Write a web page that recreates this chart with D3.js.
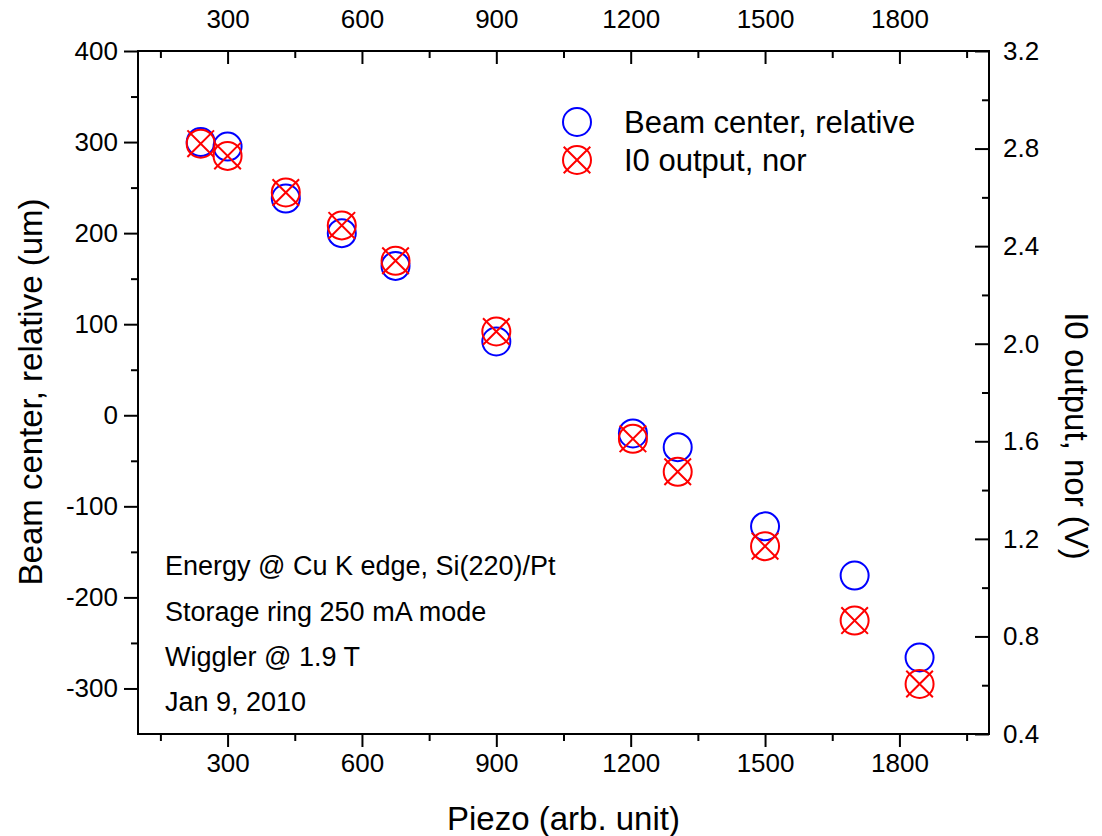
<!DOCTYPE html>
<html>
<head>
	<meta charset="utf-8">
	<script src="https://d3js.org/d3.v7.min.js"></script>
	<style>
		body { margin: 0; background: #fff; }
		text { font-family: "Liberation Sans", Arial, sans-serif; fill: #000; }
	</style>
</head>
<body>
	<div class="chart"></div>
	<script>
		// data
		var piezo = [240, 300, 430, 555, 675, 900, 1205, 1305, 1500, 1700, 1845];
		var beamCenter = [300, 295, 238, 200, 164, 81, -20, -35, -122, -176, -266];
		var i0Output = [2.82, 2.77, 2.62, 2.485, 2.34, 2.05, 1.61, 1.475, 1.17, 0.865, 0.605];
		var xTicks = [300, 600, 900, 1200, 1500, 1800];
		var yLeftTicks = [-300, -200, -100, 0, 100, 200, 300, 400];
		var yRightTicks = [0.4, 0.8, 1.2, 1.6, 2.0, 2.4, 2.8, 3.2];
		var notes = ["Energy @ Cu K edge, Si(220)/Pt", "Storage ring 250 mA mode", "Wiggler @ 1.9 T", "Jan 9, 2010"];
		var legendLabels = ["Beam center, relative", "I0 output, nor"];

		var w = 1102, h = 836;
		var pl = 138, pr = 989, pt = 51, pb = 734;
		var r = 14;
		var tickFont = 26;

		var svg = d3.select(".chart")
			.append("svg")
			.attr("width", w)
			.attr("height", h);

		var x = d3.scaleLinear().domain([100, 2000]).range([pl, pr]);
		var yL = d3.scaleLinear().domain([-350, 400]).range([pb, pt]);
		var yR = d3.scaleLinear().domain([0.4, 3.2]).range([pb, pt]);

		var xMinor = d3.range(150, 2000, 300);
		var yLMinor = d3.range(-250, 400, 100);
		var yRMinor = [0.6, 1.0, 1.4, 1.8, 2.2, 2.6, 3.0];

		function style(g) {
			g.select(".domain").remove();
			g.selectAll(".tick line").attr("stroke", "#000").attr("stroke-width", 2);
			g.selectAll(".tick text").style("font-size", tickFont + "px").style("font-family", null);
		}
		var plain = function(d) { return String(d); };

		// minor ticks first, then major with labels
		svg.append("g").attr("transform", "translate(0," + pb + ")")
			.call(d3.axisBottom(x).tickValues(xMinor).tickSize(7).tickFormat(""))
			.call(style);
		svg.append("g").attr("transform", "translate(0," + pb + ")")
			.call(d3.axisBottom(x).tickValues(xTicks).tickSize(13).tickPadding(7).tickFormat(plain))
			.call(style);

		svg.append("g").attr("transform", "translate(0," + pt + ")")
			.call(d3.axisBottom(x).tickValues(xMinor).tickSize(7).tickFormat(""))
			.call(style);
		var topAx = svg.append("g").attr("transform", "translate(0," + pt + ")")
			.call(d3.axisBottom(x).tickValues(xTicks).tickSize(13).tickFormat(plain))
			.call(style);
		topAx.selectAll(".tick text").attr("y", -41).attr("dy", "0.71em");

		svg.append("g").attr("transform", "translate(" + pl + ",0)")
			.call(d3.axisLeft(yL).tickValues(yLMinor).tickSize(7).tickFormat(""))
			.call(style);
		svg.append("g").attr("transform", "translate(" + pl + ",0)")
			.call(d3.axisLeft(yL).tickValues(yLeftTicks).tickSize(14).tickPadding(6).tickFormat(plain))
			.call(style);

		svg.append("g").attr("transform", "translate(" + pr + ",0)")
			.call(d3.axisLeft(yR).tickValues(yRMinor).tickSize(7).tickFormat(""))
			.call(style);
		var rightAx = svg.append("g").attr("transform", "translate(" + pr + ",0)")
			.call(d3.axisLeft(yR).tickValues(yRightTicks).tickSize(14).tickFormat(d3.format(".1f")))
			.call(style);
		rightAx.selectAll(".tick text").attr("x", 14).attr("text-anchor", "start");

		// frame
		svg.append("rect")
			.attr("x", pl).attr("y", pt)
			.attr("width", pr - pl).attr("height", pb - pt)
			.attr("fill", "none").attr("stroke", "#000").attr("stroke-width", 2);

		// axis titles
		svg.append("text").attr("x", (pl + pr) / 2).attr("y", 818).attr("dy", "0.35em")
			.attr("text-anchor", "middle").style("font-size", "33px")
			.text("Piezo (arb. unit)");
		svg.append("text").attr("transform", "translate(30," + 392 + ") rotate(-90)")
			.attr("dy", "0.35em")
			.attr("text-anchor", "middle").style("font-size", "33px")
			.text("Beam center, relative (um)");
		svg.append("text").attr("transform", "translate(1077," + 436 + ") rotate(90)")
			.attr("dy", "0.35em")
			.attr("text-anchor", "middle").style("font-size", "33px")
			.text("I0 output, nor (V)");

		// markers
		var pts = piezo.map(function(d, i) { return {x: d, b: beamCenter[i], n: i0Output[i]}; });

		function crossCircle(g, color) {
			g.append("circle").attr("r", r).attr("fill", "none").attr("stroke", color).attr("stroke-width", 2);
			var k = r * 0.95;
			g.append("path").attr("d", "M" + (-k) + "," + (-k) + "L" + k + "," + k + "M" + k + "," + (-k) + "L" + (-k) + "," + k)
				.attr("stroke", color).attr("stroke-width", 2);
		}

		svg.append("g").selectAll("circle")
			.data(pts)
			.enter()
			.append("circle")
			.attr("cx", function(d) { return x(d.x); })
			.attr("cy", function(d) { return yL(d.b); })
			.attr("r", r)
			.attr("fill", "none")
			.attr("stroke", "#0000ff")
			.attr("stroke-width", 2);

		svg.append("g").selectAll("g")
			.data(pts)
			.enter()
			.append("g")
			.attr("transform", function(d) { return "translate(" + x(d.x) + "," + yR(d.n) + ")"; })
			.each(function() { crossCircle(d3.select(this), "#ff0000"); });

		// legend
		var lg = svg.append("g");
		lg.append("circle").attr("cx", 577).attr("cy", 122).attr("r", r)
			.attr("fill", "none").attr("stroke", "#0000ff").attr("stroke-width", 2);
		crossCircle(lg.append("g").attr("transform", "translate(577,160)"), "#ff0000");
		lg.selectAll("text")
			.data(legendLabels)
			.enter()
			.append("text")
			.attr("x", 624)
			.attr("y", function(d, i) { return 122 + i * 38; })
			.attr("dy", "0.35em")
			.style("font-size", "31px")
			.text(function(d) { return d; });

		// notes
		svg.append("g").selectAll("text")
			.data(notes)
			.enter()
			.append("text")
			.attr("x", 165)
			.attr("y", function(d, i) { return 566 + i * 45.3; })
			.attr("dy", "0.35em")
			.style("font-size", "27px")
			.text(function(d) { return d; });
	</script>
</body>
</html>
